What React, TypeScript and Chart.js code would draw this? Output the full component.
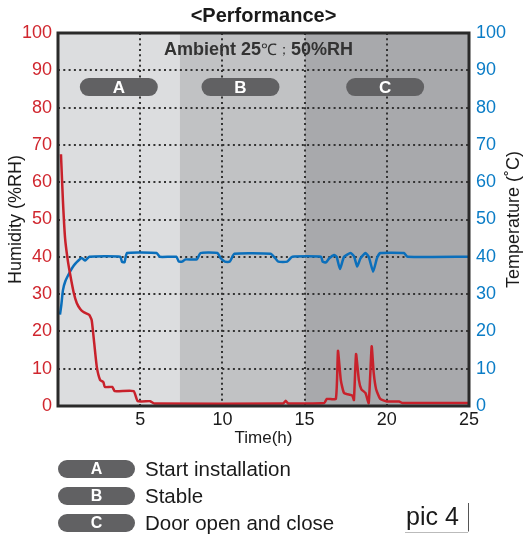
import React, { useEffect, useRef } from "react";
import { Chart, registerables } from "chart.js";

Chart.register(...registerables);

const humidityTime = [0.18, 0.3, 0.43, 0.58, 0.73, 0.95, 1.14, 1.35, 1.55, 1.9, 2.05, 2.2, 2.36, 2.56, 2.76, 2.85, 3.3, 3.45, 4.6, 4.85, 5.6, 5.85, 13.7, 13.85, 14.0, 16.2, 16.35, 16.9, 17.03, 17.2, 17.4, 17.9, 18.0, 18.13, 18.3, 18.45, 18.7, 18.9, 19.08, 19.2, 19.35, 19.6, 20.0, 20.75, 20.95, 25];
const humidityValues = [67.5, 55, 45, 39.5, 35.5, 30.5, 27.6, 26, 25.2, 24.4, 23, 17, 10.5, 7, 6.4, 5.1, 5.1, 4, 4, 1.3, 1.3, 0.7, 0.7, 1.4, 0.7, 0.8, 1.9, 1.9, 14.8, 7, 3.5, 2.8, 1.6, 13.9, 7, 4.5, 3.5, 0.8, 16, 9, 4.5, 1.9, 1.2, 1.2, 0.8, 0.8];

const tempTime = [0.12, 0.2, 0.3, 0.45, 0.73, 0.95, 1.14, 1.44, 1.65, 1.9, 3.78, 3.9, 4.05, 4.2, 6.0, 6.2, 7.2, 7.35, 7.55, 7.75, 8.45, 8.66, 9.7, 9.88, 10.15, 10.45, 10.73, 12.93, 13.2, 13.4, 13.94, 14.25, 16.0, 16.1, 16.3, 16.5, 16.8, 16.95, 17.15, 17.4, 17.8, 18.0, 18.2, 18.4, 18.7, 18.9, 19.17, 19.4, 19.6, 21.05, 21.26, 25];
const tempValues = [24.5, 27, 31, 33.5, 36, 37.6, 38.6, 39.7, 39, 40, 40, 38.6, 38.6, 41, 41, 40, 40, 38.7, 38.7, 39.3, 39.3, 41, 41, 39.7, 38.7, 38.7, 40.8, 40.8, 39.7, 38.7, 38.7, 40, 40, 38.7, 38.5, 39.6, 40.5, 40, 36.7, 40, 41, 40.2, 37.4, 39.6, 41, 40, 36, 39.6, 41, 41, 40, 40];

const phaseLabels = ["A", "B", "C"];
const phaseStart = [0, 7.4, 15];
const phaseEnd = [7.4, 15, 25];
const phaseColors = ["#dcdddf", "#c1c2c4", "#a8a9ac"];
const pillCenters = [3.7, 11.1, 19.9];
const pillY = 85.5;
const legendTexts = ["Start installation", "Stable", "Door open and close"];

const FONT = "'Liberation Sans', Arial, sans-serif";

function roundRect(ctx: CanvasRenderingContext2D, x: number, y: number, w: number, h: number, r: number) {
  ctx.beginPath();
  ctx.moveTo(x + r, y);
  ctx.lineTo(x + w - r, y);
  ctx.arc(x + w - r, y + r, r, -Math.PI / 2, Math.PI / 2);
  ctx.lineTo(x + r, y + h);
  ctx.arc(x + r, y + r, r, Math.PI / 2, Math.PI * 1.5);
  ctx.closePath();
}

const decorPlugin = {
  id: "decor",
  beforeDraw(chart: any) {
    const { ctx, chartArea, scales } = chart;
    const x = scales.x;
    ctx.save();
    for (let i = 0; i < phaseStart.length; i++) {
      const x0 = x.getPixelForValue(phaseStart[i]);
      const x1 = x.getPixelForValue(phaseEnd[i]);
      ctx.fillStyle = phaseColors[i];
      ctx.fillRect(x0, chartArea.top, x1 - x0, chartArea.bottom - chartArea.top);
    }
    ctx.restore();
  },
  afterDraw(chart: any) {
    const { ctx, chartArea, scales } = chart;
    const x = scales.x;
    const y = scales.y;
    ctx.save();
    // frame
    ctx.strokeStyle = "#2a2a2a";
    ctx.lineWidth = 3;
    ctx.strokeRect(chartArea.left, chartArea.top, chartArea.right - chartArea.left, chartArea.bottom - chartArea.top);

    // title
    ctx.fillStyle = "#1a1a1a";
    ctx.textAlign = "center";
    ctx.textBaseline = "middle";
    ctx.font = `bold 20px ${FONT}`;
    ctx.fillText("<Performance>", (chartArea.left + chartArea.right) / 2, 16);

    // ambient text
    const parts: [string, string][] = [
      ["Ambient 25", `bold 18px ${FONT}`],
      ["℃", `16px ${FONT}`],
      ["；", `14px ${FONT}`],
      ["50%RH", `bold 18px ${FONT}`],
    ];
    let total = 0;
    for (const [t, f] of parts) {
      ctx.font = f;
      total += ctx.measureText(t).width;
    }
    let cx = x.getPixelForValue(12.2) - total / 2;
    const ay = y.getPixelForValue(95.3);
    ctx.textAlign = "left";
    ctx.fillStyle = "#333";
    for (const [t, f] of parts) {
      ctx.font = f;
      ctx.fillText(t, cx, ay);
      cx += ctx.measureText(t).width;
    }

    // pills in plot
    const py = y.getPixelForValue(pillY);
    for (let i = 0; i < pillCenters.length; i++) {
      const pc = x.getPixelForValue(pillCenters[i]);
      const w = 78;
      const h = 18;
      ctx.fillStyle = "#616163";
      roundRect(ctx, pc - w / 2, py - h / 2, w, h, h / 2);
      ctx.fill();
      ctx.fillStyle = "#ffffff";
      ctx.font = `bold 17px ${FONT}`;
      ctx.textAlign = "center";
      ctx.fillText(phaseLabels[i], pc, py + 1);
    }

    // axis titles
    ctx.fillStyle = "#1a1a1a";
    ctx.font = `18px ${FONT}`;
    ctx.textAlign = "center";
    const midY = (chartArea.top + chartArea.bottom) / 2;
    ctx.save();
    ctx.translate(16, midY);
    ctx.rotate(-Math.PI / 2);
    ctx.fillText("Humidity (%RH)", 0, 0);
    ctx.restore();
    ctx.save();
    ctx.translate(514, midY);
    ctx.rotate(-Math.PI / 2);
    ctx.fillText("Temperature (˚C)", 0, 0);
    ctx.restore();
    ctx.font = `17px ${FONT}`;
    ctx.fillText("Time(h)", (chartArea.left + chartArea.right) / 2, 438);

    // legend
    for (let i = 0; i < phaseLabels.length; i++) {
      const cy = 469 + i * 27;
      ctx.fillStyle = "#616163";
      roundRect(ctx, 58, cy - 9, 77, 18, 9);
      ctx.fill();
      ctx.fillStyle = "#ffffff";
      ctx.font = `bold 16px ${FONT}`;
      ctx.textAlign = "center";
      ctx.fillText(phaseLabels[i], 96.5, cy + 1);
      ctx.fillStyle = "#1a1a1a";
      ctx.font = `20.5px ${FONT}`;
      ctx.textAlign = "left";
      ctx.fillText(legendTexts[i], 145, cy + 1);
    }

    // pic 4
    ctx.fillStyle = "#1a1a1a";
    ctx.font = `25px ${FONT}`;
    ctx.textAlign = "left";
    ctx.fillText("pic 4", 406, 518);
    ctx.strokeStyle = "#555";
    ctx.lineWidth = 1;
    ctx.beginPath();
    ctx.moveTo(468.5, 503);
    ctx.lineTo(468.5, 531.5);
    ctx.stroke();
    ctx.strokeStyle = "#bbb";
    ctx.beginPath();
    ctx.moveTo(405, 532.5);
    ctx.lineTo(468, 532.5);
    ctx.stroke();
    ctx.restore();
  },
};

export default function App() {
  const ref = useRef<HTMLCanvasElement | null>(null);
  useEffect(() => {
    document.body.style.margin = "0";
    const canvas = ref.current;
    if (!canvas) return;
    const chart = new Chart(canvas, {
      type: "line",
      data: {
        datasets: [
          {
            label: "Humidity",
            data: humidityTime.map((t, i) => ({ x: t, y: humidityValues[i] })),
            borderColor: "#c8212b",
            borderWidth: 2.5,
            pointRadius: 0,
            tension: 0.15,
            yAxisID: "y",
          },
          {
            label: "Temperature",
            data: tempTime.map((t, i) => ({ x: t, y: tempValues[i] })),
            borderColor: "#0b6fbb",
            borderWidth: 2.5,
            pointRadius: 0,
            tension: 0.15,
            yAxisID: "y2",
          },
        ],
      },
      plugins: [decorPlugin],
      options: {
        animation: false,
        responsive: false,
        layout: { padding: { top: 33, left: 0, right: 0, bottom: 0 } },
        plugins: { legend: { display: false }, title: { display: false }, tooltip: { enabled: false } },
        scales: {
          x: {
            type: "linear",
            min: 0,
            max: 25,
            afterFit: (s: any) => { s.height = 131; },
            ticks: {
              stepSize: 5,
              color: "#1a1a1a",
              font: { family: FONT, size: 18 },
              padding: 3,
              callback: (v: any) => (v === 0 ? "" : String(v)),
            },
            grid: { color: "#333", lineWidth: 2, drawTicks: false },
            border: { display: false, dash: [2, 3.3] },
          },
          y: {
            position: "left",
            min: 0,
            max: 100,
            afterFit: (s: any) => { s.width = 58; },
            ticks: { stepSize: 10, color: "#d0262e", font: { family: FONT, size: 18 }, padding: 6 },
            grid: { color: "#333", lineWidth: 2, drawTicks: false },
            border: { display: false, dash: [2, 3.3] },
          },
          y2: {
            position: "right",
            min: 0,
            max: 100,
            afterFit: (s: any) => { s.width = 56; },
            ticks: { stepSize: 10, color: "#0a7cc6", font: { family: FONT, size: 18 }, padding: 7 },
            grid: { display: false, drawTicks: false },
            border: { display: false },
          },
        },
      },
    } as any);
    return () => chart.destroy();
  }, []);
  return <canvas ref={ref} width={525} height={537} style={{ display: "block" }} />;
}
